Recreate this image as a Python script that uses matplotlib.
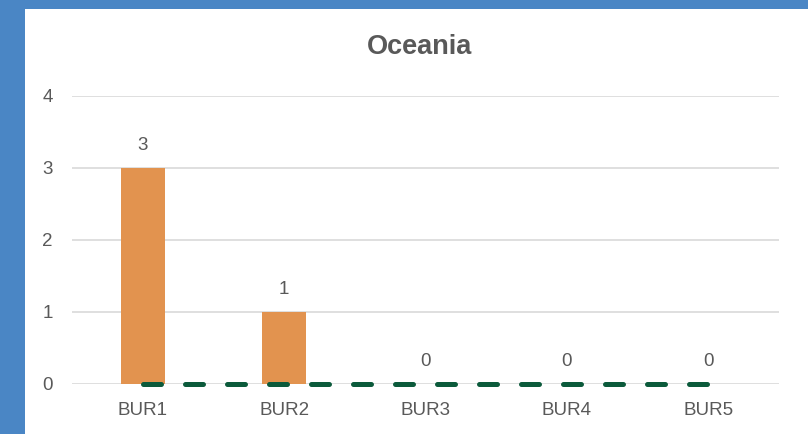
import matplotlib.pyplot as plt
from matplotlib.patches import Rectangle

categories = ["BUR1", "BUR2", "BUR3", "BUR4", "BUR5"]
bar_values = [3, 1, 0, 0, 0]
line_values = [0, 0, 0, 0, 0]
y_ticks = [0, 1, 2, 3, 4]

text_color = "#595959"
plt.rcParams["font.family"] = ["Liberation Sans", "DejaVu Sans"]

fig = plt.figure(figsize=(8.08, 4.34), dpi=100)
fig.patch.set_facecolor("#4A86C5")
# white chart area inside the blue frame
fig.add_artist(Rectangle((25 / 808, 0), 1 - 25 / 808, 1 - 9 / 434,
                         transform=fig.transFigure, facecolor="white",
                         edgecolor="none", zorder=-10))

ax = fig.add_axes([72 / 808, 50 / 434, 707 / 808, 288 / 434])
ax.set_facecolor("none")

x = list(range(len(categories)))
ax.bar(x, bar_values, width=0.31, color="#E2934F", zorder=2)
for xi, v in zip(x, bar_values):
    ax.annotate(str(v), (xi, v), xytext=(0, 16), textcoords="offset points",
                ha="center", va="center", fontsize=13.5, color=text_color)

line, = ax.plot(x, line_values, color="#0B5A3B", linewidth=3.6,
                solid_capstyle="round", dash_capstyle="round", zorder=3,
                clip_on=False)
line.set_dashes((3.6, 4.8))

ax.set_xlim(-0.5, len(categories) - 0.5)
ax.set_ylim(0, 4)
ax.set_yticks(y_ticks)
ax.set_xticks(x)
ax.set_xticklabels(categories)
ax.grid(axis="y", color="#D9D9D9", linewidth=1.2, zorder=0)
ax.set_axisbelow(True)
for s in ax.spines.values():
    s.set_visible(False)
ax.tick_params(axis="both", length=0, labelsize=13.5, labelcolor=text_color)
ax.tick_params(axis="y", pad=14)
ax.tick_params(axis="x", pad=13)

fig.text(420 / 808, 1 - 47 / 434, "Oceania", ha="center", va="center",
         fontsize=19.5, fontweight="bold", color=text_color)

fig.savefig("out.png", dpi=100)
